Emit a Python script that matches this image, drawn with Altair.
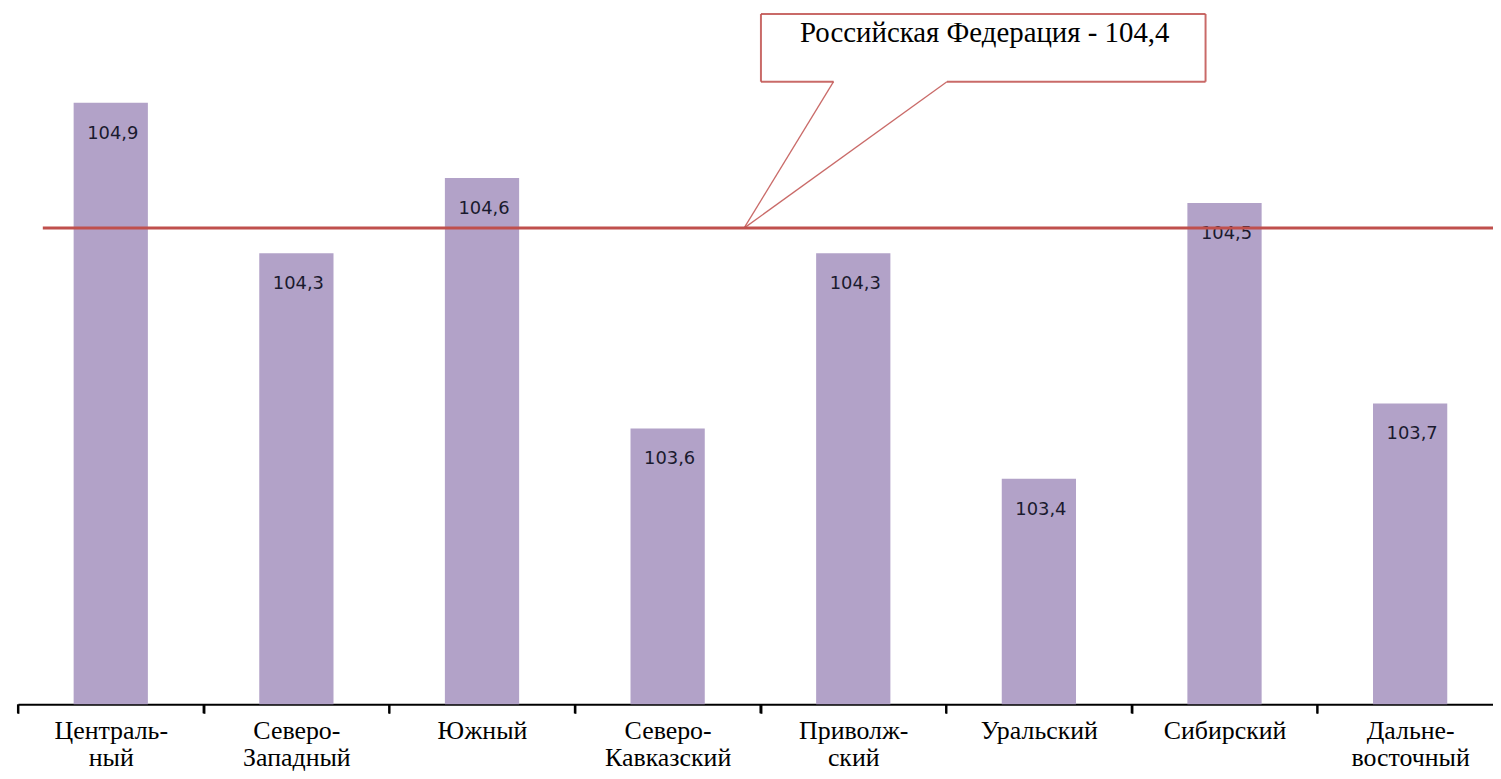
import altair as alt
import pandas as pd

categories = ["Централь-|ный", "Северо-|Западный", "Южный", "Северо-|Кавказский",
              "Приволж-|ский", "Уральский", "Сибирский", "Дальне-|восточный"]
values = [104.9, 104.3, 104.6, 103.6, 104.3, 103.4, 104.5, 103.7]
russia_value = 104.4
russia_label = "Российская Федерация - 104,4"

df = pd.DataFrame({"region": categories, "value": values})

W_PLOT = 1483
H_PLOT = 698
BAR_COLOR = "#b2a2c8"
RED = "#c0504d"

x_scale = alt.Scale(range=[0, 1493], paddingInner=0, paddingOuter=0)
x_enc = alt.X("region:N", sort=categories, title=None, scale=x_scale,
              axis=alt.Axis(labelExpr="isValid(datum.value) ? split(datum.value, '|') : ''",
                            labelAngle=0,
                            labelFont="Liberation Serif", labelFontSize=26,
                            labelColor="black", labelLineHeight=28, labelPadding=4,
                            ticks=True, tickBand="extent", tickSize=9, tickColor="black",
                            tickWidth=2, tickOpacity=1,
                            domainColor="black", domainWidth=2, labelBaseline="top"))
y_scale = alt.Scale(domain=[102.5, 105.27], nice=False, zero=False)
y_enc = alt.Y("value:Q", scale=y_scale, axis=None)

bars = alt.Chart(df).mark_bar(color=BAR_COLOR, width=alt.RelativeBandSize(0.4)).encode(
    x=x_enc, y=y_enc, y2=alt.datum(102.5))

# tick marks at the category boundaries
ticks = alt.Chart(df).mark_rule(color="black", strokeWidth=2).encode(
    x=alt.X("region:N", sort=categories, bandPosition=0),
    y=alt.value(H_PLOT), y2=alt.value(H_PLOT + 9))

labels = alt.Chart(df).transform_calculate(
    lab="replace(format(datum.value, '.1f'), '.', ',')"
).mark_text(font="DejaVu Sans", fontSize=18, color="#1a1a2e", dy=31, dx=2, baseline="middle").encode(
    x=alt.X("region:N", sort=categories), y=alt.Y("value:Q", scale=y_scale), text="lab:N")

ref = pd.DataFrame({"v": [russia_value], "t": [russia_label]})
base = alt.Chart(ref)

rline = base.mark_rule(color=RED, strokeWidth=3).encode(
    y=alt.Y("v:Q", scale=y_scale), x=alt.value(25), x2=alt.value(1490))

stroke = dict(color=RED, strokeWidth=2, opacity=0.85)
box_l, box_r, box_t, box_b = 747, 1194, 4, 72
p_l, p_r, tip_x = 820, 934, 730
segs = [
    base.mark_rule(**stroke).encode(x=alt.value(box_l), x2=alt.value(box_r), y=alt.value(box_t), y2=alt.value(box_t)),
    base.mark_rule(**stroke).encode(x=alt.value(box_l), x2=alt.value(box_l), y=alt.value(box_t), y2=alt.value(box_b)),
    base.mark_rule(**stroke).encode(x=alt.value(box_r), x2=alt.value(box_r), y=alt.value(box_t), y2=alt.value(box_b)),
    base.mark_rule(**stroke).encode(x=alt.value(box_l), x2=alt.value(p_l), y=alt.value(box_b), y2=alt.value(box_b)),
    base.mark_rule(**stroke).encode(x=alt.value(p_r), x2=alt.value(box_r), y=alt.value(box_b), y2=alt.value(box_b)),
    base.mark_rule(color=RED, strokeWidth=1.3, opacity=0.85).encode(
        x=alt.value(tip_x), y=alt.Y("v:Q", scale=y_scale), x2=alt.value(p_l), y2=alt.value(box_b)),
    base.mark_rule(color=RED, strokeWidth=1.3, opacity=0.85).encode(
        x=alt.value(tip_x), y=alt.Y("v:Q", scale=y_scale), x2=alt.value(p_r), y2=alt.value(box_b)),
]
ctext = base.mark_text(font="Liberation Serif", fontSize=29, color="black", baseline="middle").encode(
    x=alt.value(972), y=alt.value(23), text="t:N")

chart = alt.layer(bars, ticks, labels, rline, *segs, ctext).properties(
    width=W_PLOT, height=H_PLOT,
    padding={"left": 10, "top": 0, "right": 0, "bottom": 72},
    autosize=alt.AutoSizeParams(type="none"),
).configure(background="white", view=alt.ViewConfig(stroke=None))

chart.save("out.html", embed_options={"renderer": "svg", "actions": False})
